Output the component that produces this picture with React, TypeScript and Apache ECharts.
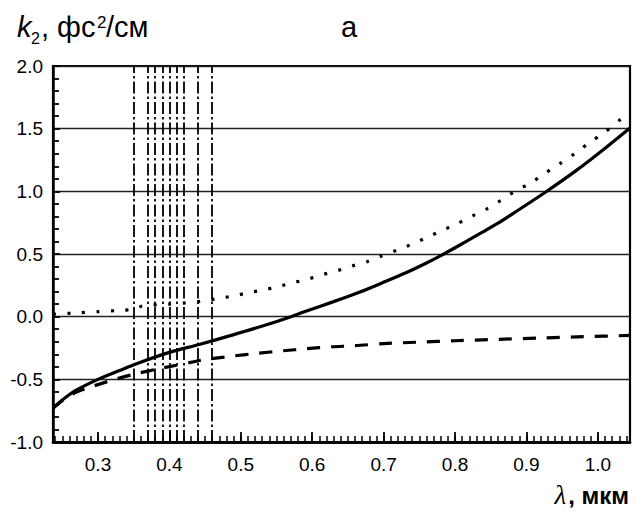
import React, { useEffect, useRef } from "react";
import * as echarts from "echarts";

// ---- data ----
const xTickLabels = [0.3, 0.4, 0.5, 0.6, 0.7, 0.8, 0.9, 1.0];
const yTickLabels = [-1.0, -0.5, 0.0, 0.5, 1.0, 1.5, 2.0];

const solidLambda = [0.237, 0.25, 0.27, 0.30, 0.33, 0.354, 0.40, 0.443, 0.489, 0.536, 0.564, 0.592, 0.629, 0.666, 0.699, 0.732, 0.76, 0.78, 0.80, 0.834, 0.862, 0.881, 0.9275, 0.9695, 1.0115, 1.045];
const solidK = [-0.73, -0.665, -0.585, -0.50, -0.43, -0.375, -0.285, -0.22, -0.145, -0.065, -0.012, 0.045, 0.118, 0.195, 0.272, 0.352, 0.428, 0.487, 0.55, 0.66, 0.752, 0.822, 0.997, 1.165, 1.35, 1.505];

const dottedLambda = [0.237, 0.27, 0.30, 0.33, 0.352, 0.362, 0.40, 0.425, 0.447, 0.469, 0.489, 0.511, 0.531, 0.552, 0.573, 0.593, 0.614, 0.635, 0.656, 0.677, 0.697, 0.719, 0.739, 0.761, 0.781, 0.802, 0.824, 0.844, 0.865, 0.883, 0.905, 0.926, 0.946, 0.968, 0.988, 1.01, 1.035];
const dottedK = [0.02, 0.03, 0.04, 0.05, 0.06, 0.085, 0.10, 0.11, 0.125, 0.146, 0.165, 0.191, 0.213, 0.239, 0.271, 0.298, 0.335, 0.367, 0.405, 0.439, 0.484, 0.532, 0.577, 0.633, 0.686, 0.739, 0.803, 0.858, 0.931, 0.997, 1.064, 1.144, 1.218, 1.303, 1.388, 1.473, 1.59];

const dashedLambda = [0.237, 0.25, 0.265, 0.285, 0.315, 0.35, 0.39, 0.43, 0.447, 0.489, 0.524, 0.559, 0.592, 0.627, 0.659, 0.70, 0.75, 0.80, 0.86, 0.92, 0.98, 1.045];
const dashedK = [-0.73, -0.67, -0.615, -0.57, -0.515, -0.46, -0.41, -0.365, -0.345, -0.314, -0.292, -0.272, -0.256, -0.24, -0.232, -0.215, -0.203, -0.192, -0.181, -0.17, -0.16, -0.15];

const dashDotLambda = [0.3545, 0.3657, 0.3769, 0.3881, 0.3986, 0.4105, 0.4238, 0.4385, 0.4552];

const zip = (xs: number[], ys: number[]) => xs.map((x, i) => [x, ys[i]]);

const minorX: number[] = [];
for (let i = 24; i <= 104; i++) minorX.push(i / 100);

const SANS = "'Liberation Sans', Arial, sans-serif";
const SERIF = "'Liberation Serif', 'Times New Roman', serif";

export default function App() {
  const ref = useRef<HTMLDivElement>(null);
  useEffect(() => {
    if (!ref.current) return;
    const chart = echarts.init(ref.current, null, { renderer: "svg" });
    const X_MIN = 0.237;
    const X_MAX = 1.045;
    chart.setOption({
      animation: false,
      backgroundColor: "#fff",
      grid: {
        left: 53,
        right: 6,
        top: 66,
        bottom: 69,
        show: true,
        borderColor: "#000",
        borderWidth: 2.2,
        backgroundColor: "transparent",
      },
      xAxis: [
        {
          type: "value",
          min: X_MIN,
          max: X_MAX,
          position: "bottom",
          axisLine: { show: true, onZero: false, lineStyle: { color: "#000", width: 2.5 } },
          axisTick: {
            show: true,
            inside: true,
            length: 10,
            customValues: xTickLabels,
            lineStyle: { color: "#000", width: 1.8 },
          },
          axisLabel: {
            show: true,
            customValues: xTickLabels,
            margin: 13,
            fontSize: 19,
            fontFamily: SANS,
            color: "#000",
            formatter: (v: number) => v.toFixed(1),
          },
          splitLine: { show: false },
        },
        {
          type: "value",
          min: X_MIN,
          max: X_MAX,
          position: "bottom",
          axisLine: { show: true, onZero: false, lineStyle: { color: "#000", width: 2.5 } },
          axisTick: {
            show: true,
            inside: true,
            length: 6,
            customValues: minorX,
            lineStyle: { color: "#000", width: 1.5 },
          },
          axisLabel: { show: false },
          splitLine: { show: false },
        },
      ],
      yAxis: {
        type: "value",
        min: yTickLabels[0],
        max: yTickLabels[yTickLabels.length - 1],
        interval: 0.5,
        axisLine: { show: true, onZero: false, lineStyle: { color: "#000", width: 2.5 } },
        axisTick: { show: true, inside: true, length: 7, lineStyle: { color: "#000", width: 1.8 } },
        minorTick: { show: true, splitNumber: 5, length: 6, lineStyle: { color: "#000", width: 1.8 } },
        axisLabel: {
          margin: 10,
          fontSize: 19,
          fontFamily: SANS,
          color: "#000",
          formatter: (v: number) => v.toFixed(1),
        },
        splitLine: { show: true, lineStyle: { color: "#222", width: 1.4 } },
      },
      series: [
        {
          name: "solid",
          type: "line",
          xAxisIndex: 0,
          data: zip(solidLambda, solidK),
          smooth: 0.3,
          showSymbol: false,
          lineStyle: { color: "#000", width: 3.2 },
          z: 5,
          markLine: {
            silent: true,
            symbol: ["none", "none"],
            label: { show: false },
            lineStyle: { color: "#000", width: 1.8, type: [12, 3, 2.5, 3] },
            data: dashDotLambda.map((v) => ({ xAxis: v })),
          },
        },
        {
          name: "dotted",
          type: "line",
          xAxisIndex: 0,
          data: zip(dottedLambda, dottedK),
          smooth: 0.3,
          showSymbol: false,
          lineStyle: { color: "#000", width: 3.2, type: [3, 11.5] },
          z: 5,
        },
        {
          name: "dashed",
          type: "line",
          xAxisIndex: 0,
          data: zip(dashedLambda, dashedK),
          smooth: 0.3,
          showSymbol: false,
          lineStyle: { color: "#000", width: 3.2, type: [13, 11] },
          z: 5,
        },
      ],
      graphic: [
        { type: "text", x: 17, y: 27, silent: true, style: { text: "k", fontSize: 29, fontStyle: "italic", fontFamily: SANS, fill: "#000", verticalAlign: "middle" } },
        { type: "text", x: 31, y: 38, silent: true, style: { text: "2", fontSize: 16, fontFamily: SANS, fill: "#000", verticalAlign: "middle" } },
        { type: "text", x: 41, y: 27, silent: true, style: { text: ", фс", fontSize: 29, fontFamily: SANS, fill: "#000", verticalAlign: "middle" } },
        { type: "text", x: 97, y: 22, silent: true, style: { text: "2", fontSize: 17, fontFamily: SANS, fill: "#000", verticalAlign: "middle" } },
        { type: "text", x: 106, y: 27, silent: true, style: { text: "/см", fontSize: 29, fontFamily: SANS, fill: "#000", verticalAlign: "middle" } },
        { type: "text", x: 349, y: 27, silent: true, style: { text: "а", fontSize: 29, fontFamily: SANS, fill: "#000", align: "center", verticalAlign: "middle" } },
        {
          type: "text",
          x: 629,
          y: 495,
          silent: true,
          style: {
            text: "{l|λ}{b|, мкм}",
            align: "right",
            verticalAlign: "middle",
            fill: "#000",
            rich: {
              l: { fontSize: 27, fontStyle: "italic", fontFamily: SERIF, fill: "#000", padding: [0, 2, 0, 0] },
              b: { fontSize: 24, fontWeight: "bold", fontFamily: SANS, fill: "#000" },
            },
          },
        },
      ],
    });
    return () => chart.dispose();
  }, []);
  return <div ref={ref} style={{ position: "fixed", left: 0, top: 0, width: 636, height: 511 }} />;
}
